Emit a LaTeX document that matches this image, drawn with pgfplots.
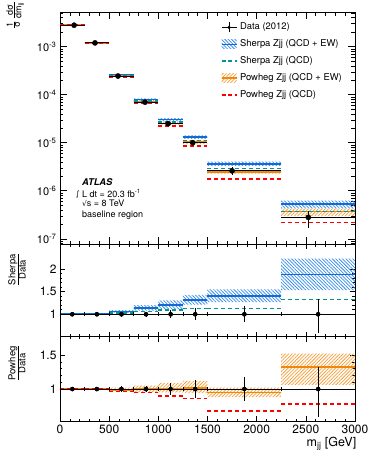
\documentclass[border=0pt]{standalone}
\usepackage{fontspec}
\setmainfont{TeX Gyre Heros}
\newfontfamily\dejavu{DejaVu Sans}
\usepackage{pgfplots}
\pgfplotsset{compat=1.18}
\usepackage{pgfplotstable}
\usetikzlibrary{patterns.meta}

\definecolor{sherpa}{RGB}{20,105,210}
\definecolor{sherpahatch}{RGB}{55,140,235}
\definecolor{sherpaqcd}{RGB}{0,150,150}
\definecolor{powheg}{RGB}{240,135,10}
\definecolor{powheghatch}{RGB}{245,160,60}
\definecolor{powhegqcd}{RGB}{255,0,0}

% data, main panel: x position, value, x error -, x error +, y error +, y error -
\pgfplotstableread{
x y xm xp ep em
143 2.8e-3 143 107 2.8e-5 2.8e-5
356 1.2e-3 106 144 1.2e-5 1.2e-5
590 2.45e-4 90 160 4.9e-6 4.9e-6
865 7.0e-5 115 135 2.1e-6 2.1e-6
1100 2.5e-5 100 150 2.25e-6 2.25e-6
1350 1.0e-5 100 150 1.2e-6 1.2e-6
1750 2.6e-6 250 500 4.7e-7 4.7e-7
2525 2.8e-7 275 475 9.2e-8 1.15e-7
}\updata

% predictions, main panel (bin left edges): Sherpa QCD+EW, Sherpa QCD, Powheg QCD+EW, Powheg QCD
\pgfplotstableread{
x s sq p pq
0 2.8e-3 2.8e-3 2.8e-3 2.828e-3
250 1.2e-3 1.2e-3 1.2e-3 1.2e-3
500 2.597e-4 2.524e-4 2.426e-4 2.352e-4
750 7.98e-5 7.42e-5 7.0e-5 6.65e-5
1000 3.03e-5 2.73e-5 2.525e-5 2.25e-5
1250 1.32e-5 1.13e-5 1.02e-5 8.6e-6
1500 3.67e-6 2.94e-6 2.47e-6 1.77e-6
2250 5.26e-7 3.72e-7 3.70e-7 2.18e-7
3000 5.26e-7 3.72e-7 3.70e-7 2.18e-7
}\upmc

% uncertainty bands, main panel: one rectangle per bin (Sherpa, Powheg)
\pgfplotstableread{
x s p
0 2.772e-3 2.772e-3
250 2.772e-3 2.772e-3
250 2.828e-3 2.828e-3
0 2.828e-3 2.828e-3
nan nan nan
250 1.188e-3 1.188e-3
500 1.188e-3 1.188e-3
500 1.212e-3 1.212e-3
250 1.212e-3 1.212e-3
nan nan nan
500 2.524e-4 2.389e-4
750 2.524e-4 2.389e-4
750 2.671e-4 2.499e-4
500 2.671e-4 2.499e-4
nan nan nan
750 7.56e-5 6.65e-5
1000 7.56e-5 6.65e-5
1000 8.40e-5 7.35e-5
750 8.40e-5 7.35e-5
nan nan nan
1000 2.79e-5 2.375e-5
1250 2.79e-5 2.375e-5
1250 3.26e-5 2.725e-5
1000 3.26e-5 2.725e-5
nan nan nan
1250 1.21e-5 9.4e-6
1500 1.21e-5 9.4e-6
1500 1.43e-5 1.12e-5
1250 1.43e-5 1.12e-5
nan nan nan
1500 3.30e-6 2.29e-6
2250 3.30e-6 2.29e-6
2250 4.03e-6 2.65e-6
1500 4.03e-6 2.65e-6
nan nan nan
2250 4.28e-7 2.97e-7
3000 4.28e-7 2.97e-7
3000 6.24e-7 4.26e-7
2250 6.24e-7 4.26e-7
}\upband

% predictions / data (bin left edges)
\pgfplotstableread{
x s sq p pq
0 1.00 1.00 1.00 1.01
250 1.00 1.00 1.00 1.00
500 1.06 1.03 0.99 0.96
750 1.14 1.06 1.00 0.95
1000 1.21 1.09 1.01 0.90
1250 1.32 1.13 1.02 0.86
1500 1.41 1.13 0.95 0.68
2250 1.88 1.33 1.32 0.78
3000 1.88 1.33 1.32 0.78
}\ratmc

% uncertainty bands / data: one rectangle per bin (Sherpa, Powheg)
\pgfplotstableread{
x s p
0 0.99 0.99
250 0.99 0.99
250 1.01 1.01
0 1.01 1.01
nan nan nan
250 0.99 0.99
500 0.99 0.99
500 1.01 1.01
250 1.01 1.01
nan nan nan
500 1.03 0.975
750 1.03 0.975
750 1.09 1.02
500 1.09 1.02
nan nan nan
750 1.08 0.95
1000 1.08 0.95
1000 1.20 1.05
750 1.20 1.05
nan nan nan
1000 1.115 0.95
1250 1.115 0.95
1250 1.305 1.09
1000 1.305 1.09
nan nan nan
1250 1.21 0.94
1500 1.21 0.94
1500 1.43 1.12
1250 1.43 1.12
nan nan nan
1500 1.27 0.88
2250 1.27 0.88
2250 1.55 1.02
1500 1.55 1.02
nan nan nan
2250 1.53 1.06
3000 1.53 1.06
3000 2.23 1.52
2250 2.23 1.52
}\ratband

% data / data: total and statistical uncertainties
\pgfplotstableread{
x y xm xp tp tm sp sm
125 1 125 125 0.01 0.01 0.005 0.005
375 1 125 125 0.01 0.01 0.005 0.005
625 1 125 125 0.02 0.02 0.01 0.01
875 1 125 125 0.03 0.03 0.015 0.015
1125 1 125 125 0.09 0.09 0.035 0.035
1375 1 125 125 0.13 0.13 0.06 0.06
1875 1 375 375 0.18 0.18 0.065 0.065
2625 1 375 375 0.33 0.41 0.17 0.17
}\ratdata

\pgfplotsset{
  panel/.style={scale only axis, width=295pt, anchor=south west,
    xmin=0, xmax=3000, xtick={0,500,...,3000}, minor x tick num=4,
    tick align=inside, major tick length=5pt, minor tick length=2.5pt,
    axis line style={line width=0.8pt},
    every tick/.style={black, line width=0.6pt},
    unbounded coords=jump,
    /pgf/number format/assume math mode=true,
    /pgf/number format/1000 sep={},
    tick label style={font=\fontsize{12}{14}\selectfont},
  },
  shband/.style={pattern={Lines[angle=-45,distance=2.4pt,line width=0.75pt]}, pattern color=sherpahatch, draw=none, mark=none},
  pwband/.style={pattern={Lines[angle=45,distance=2.4pt,line width=0.75pt]}, pattern color=powheghatch, draw=none, mark=none},
  shline/.style={jump mark left, sherpa, line width=1.7pt, mark=none},
  sqline/.style={jump mark left, sherpaqcd, line width=1.4pt, dash pattern=on 4pt off 3pt, mark=none},
  pwline/.style={jump mark left, powheg, line width=1.7pt, mark=none},
  pqline/.style={jump mark left, powhegqcd, line width=1.4pt, dash pattern=on 4pt off 3pt, mark=none},
  ratiodata/.style={black, only marks, mark=*, mark size=1.1pt,
    error bars/.cd, x dir=both, x explicit, error mark=|,
    error mark options={mark size=2pt, line width=0.7pt}, error bar style={line width=0.9pt}},
  ratiotot/.style={black, only marks, mark=none,
    error bars/.cd, y dir=both, y explicit, error mark=none, error bar style={line width=0.9pt}},
  ratiostat/.style={black, only marks, mark=none,
    error bars/.cd, y dir=both, y explicit, error mark=-,
    error mark options={mark size=2pt, line width=0.9pt}, error bar style={line width=0.9pt}},
}

\begin{document}
\begin{tikzpicture}[x=1pt,y=1pt]

% ---------------- main panel ----------------
\begin{axis}[panel, at={(60pt,212pt)}, height=231.7pt,
  ymode=log, ymin=7.8e-8, ymax=5.2e-3,
  ytick={1e-7,1e-6,1e-5,1e-4,1e-3},
  yticklabels={10\textsuperscript{-7},10\textsuperscript{-6},10\textsuperscript{-5},10\textsuperscript{-4},10\textsuperscript{-3}},
  minor ytick={8e-8,9e-8,2e-7,3e-7,4e-7,5e-7,6e-7,7e-7,8e-7,9e-7,2e-6,3e-6,4e-6,5e-6,6e-6,7e-6,8e-6,9e-6,2e-5,3e-5,4e-5,5e-5,6e-5,7e-5,8e-5,9e-5,2e-4,3e-4,4e-4,5e-4,6e-4,7e-4,8e-4,9e-4,2e-3,3e-3,4e-3,5e-3},
  major tick length=7pt, minor tick length=3.5pt,
  xticklabels={},
  yticklabel style={font=\fontsize{11}{13}\selectfont},
  legend cell align=left,
  legend style={at={(axis description cs:0.547,0.960)}, anchor=north west,
    draw=none, fill=none, inner sep=0pt, row sep=5.5pt, column sep=0pt,
    font=\fontsize{9.4}{11}\selectfont,
    nodes={inner ysep=1pt, inner xsep=0.5pt, text height=7pt, text depth=2.4pt}},
]
\addlegendimage{legend image code/.code={
  \draw[overlay, black, line width=0.8pt] (0pt,0pt)--(15pt,0pt);
  \draw[overlay, black, line width=0.8pt] (7.5pt,-5pt)--(7.5pt,5pt);
  \fill[overlay, black, draw=none] (7.5pt,0pt) circle (1.8pt);
  \path[draw=none, fill=none] (0pt,-5pt) rectangle (18pt,5pt);}}
\addlegendentry{Data (2012)}
\addlegendimage{legend image code/.code={
  \path[overlay, draw=none, pattern={Lines[angle=-45,distance=2.4pt,line width=0.75pt]}, pattern color=sherpahatch] (0pt,-4.5pt) rectangle (15pt,4.5pt);
  \draw[overlay, sherpa, line width=1.7pt] (0pt,0pt)--(15pt,0pt);
  \path[draw=none, fill=none] (0pt,-5pt) rectangle (18pt,5pt);}}
\addlegendentry{Sherpa Zjj (QCD + EW)}
\addlegendimage{legend image code/.code={
  \draw[overlay, draw=sherpaqcd, line width=1.8pt, dash pattern=on 4pt off 2.5pt] (0pt,0pt)--(15pt,0pt);
  \path[draw=none, fill=none] (0pt,-5pt) rectangle (18pt,5pt);}}
\addlegendentry{Sherpa Zjj (QCD)}
\addlegendimage{legend image code/.code={
  \path[overlay, draw=none, pattern={Lines[angle=45,distance=2.4pt,line width=0.75pt]}, pattern color=powheghatch] (0pt,-4.5pt) rectangle (15pt,4.5pt);
  \draw[overlay, powheg, line width=1.7pt] (0pt,0pt)--(15pt,0pt);
  \path[draw=none, fill=none] (0pt,-5pt) rectangle (18pt,5pt);}}
\addlegendentry{Powheg Zjj (QCD + EW)}
\addlegendimage{legend image code/.code={
  \draw[overlay, draw=powhegqcd, line width=1.8pt, dash pattern=on 4pt off 2.5pt] (0pt,0pt)--(15pt,0pt);
  \path[draw=none, fill=none] (0pt,-5pt) rectangle (18pt,5pt);}}
\addlegendentry{Powheg Zjj (QCD)}

\addplot[shband, forget plot] table[x=x, y=s] {\upband};
\addplot[pwband, forget plot] table[x=x, y=p] {\upband};
\addplot[shline, forget plot] table[x=x, y=s] {\upmc};
\addplot[pwline, forget plot] table[x=x, y=p] {\upmc};
\addplot[sqline, forget plot] table[x=x, y=sq] {\upmc};
\addplot[pqline, forget plot] table[x=x, y=pq] {\upmc};
\addplot[black, only marks, mark=*, mark size=2.6pt, forget plot,
  error bars/.cd, x dir=both, x explicit, y dir=both, y explicit,
  error mark=none, error bar style={line width=0.9pt}]
  table[x=x, y=y, x error minus=xm, x error plus=xp, y error plus=ep, y error minus=em] {\updata};
\end{axis}

% ---------------- Sherpa / Data ----------------
\begin{axis}[panel, at={(60pt,119.3pt)}, height=92.7pt,
  ymin=0.505, ymax=2.55, ytick={1,1.5,2}, yticklabels={1,1.5,2},
  minor y tick num=4, xticklabels={}]
\addplot[shband] table[x=x, y=s] {\ratband};
\addplot[shline] table[x=x, y=s] {\ratmc};
\addplot[sqline] table[x=x, y=sq] {\ratmc};
\addplot[ratiodata] table[x=x, y=y, x error minus=xm, x error plus=xp] {\ratdata};
\addplot[ratiotot] table[x=x, y=y, y error plus=tp, y error minus=tm] {\ratdata};
\addplot[ratiostat] table[x=x, y=y, y error plus=sp, y error minus=sm] {\ratdata};
\end{axis}

% ---------------- Powheg / Data ----------------
\begin{axis}[panel, at={(60pt,35pt)}, height=84.3pt,
  ymin=0.53, ymax=1.77, ytick={1,1.5}, yticklabels={1,1.5},
  minor y tick num=4,
  xlabel={m\textsubscript{jj} [GeV]},
  xlabel style={at={(axis description cs:1.005,0)}, anchor=base east, yshift=-25.7pt,
    font=\fontsize{12.5}{14}\selectfont, inner sep=0pt}]
\addplot[pwband] table[x=x, y=p] {\ratband};
\addplot[pwline] table[x=x, y=p] {\ratmc};
\addplot[pqline] table[x=x, y=pq] {\ratmc};
\addplot[ratiodata] table[x=x, y=y, x error minus=xm, x error plus=xp] {\ratdata};
\addplot[ratiotot] table[x=x, y=y, y error plus=tp, y error minus=tm] {\ratdata};
\addplot[ratiostat] table[x=x, y=y, y error plus=sp, y error minus=sm] {\ratdata};
\end{axis}

% ---------------- labels and annotations ----------------
\node[rotate=90, anchor=east, inner sep=0pt, font=\fontsize{9}{10}\selectfont] at (15pt,455pt)
  {$\frac{\mbox{1}}{\mbox{σ}}\,\frac{\mbox{dσ}}{\mbox{dm\textsubscript{jj}}}$};
\node[rotate=90, anchor=east, inner sep=0pt, font=\fontsize{9.5}{11}\selectfont] at (17pt,203pt)
  {$\frac{\mbox{Sherpa}}{\mbox{Data}}$};
\node[rotate=90, anchor=east, inner sep=0pt, font=\fontsize{9.5}{11}\selectfont] at (17pt,111pt)
  {$\frac{\mbox{Powheg}}{\mbox{Data}}$};

\node[anchor=base west, inner sep=0pt, font=\fontsize{9.3}{11}\bfseries\itshape] at (82pt,270pt) {ATLAS};
\node[anchor=base west, inner sep=0pt, font=\fontsize{9}{11}\selectfont] at (82pt,258.7pt) {\llap{\raisebox{0.8pt}{\dejavu\fontsize{7.5}{8}\selectfont ∫}\hspace{2.4pt}}L dt = 20.3 fb\textsuperscript{-1}};
\node[anchor=base west, inner sep=0pt, font=\fontsize{9}{11}\selectfont] at (82pt,249pt) {{\dejavu\fontsize{7.5}{8}\selectfont √}s = 8 TeV};
\node[anchor=base west, inner sep=0pt, font=\fontsize{9}{11}\selectfont] at (82pt,238.7pt) {baseline region};

\pgfresetboundingbox
\path[use as bounding box] (0pt,0pt) rectangle (374pt,456pt);
\end{tikzpicture}
\end{document}
